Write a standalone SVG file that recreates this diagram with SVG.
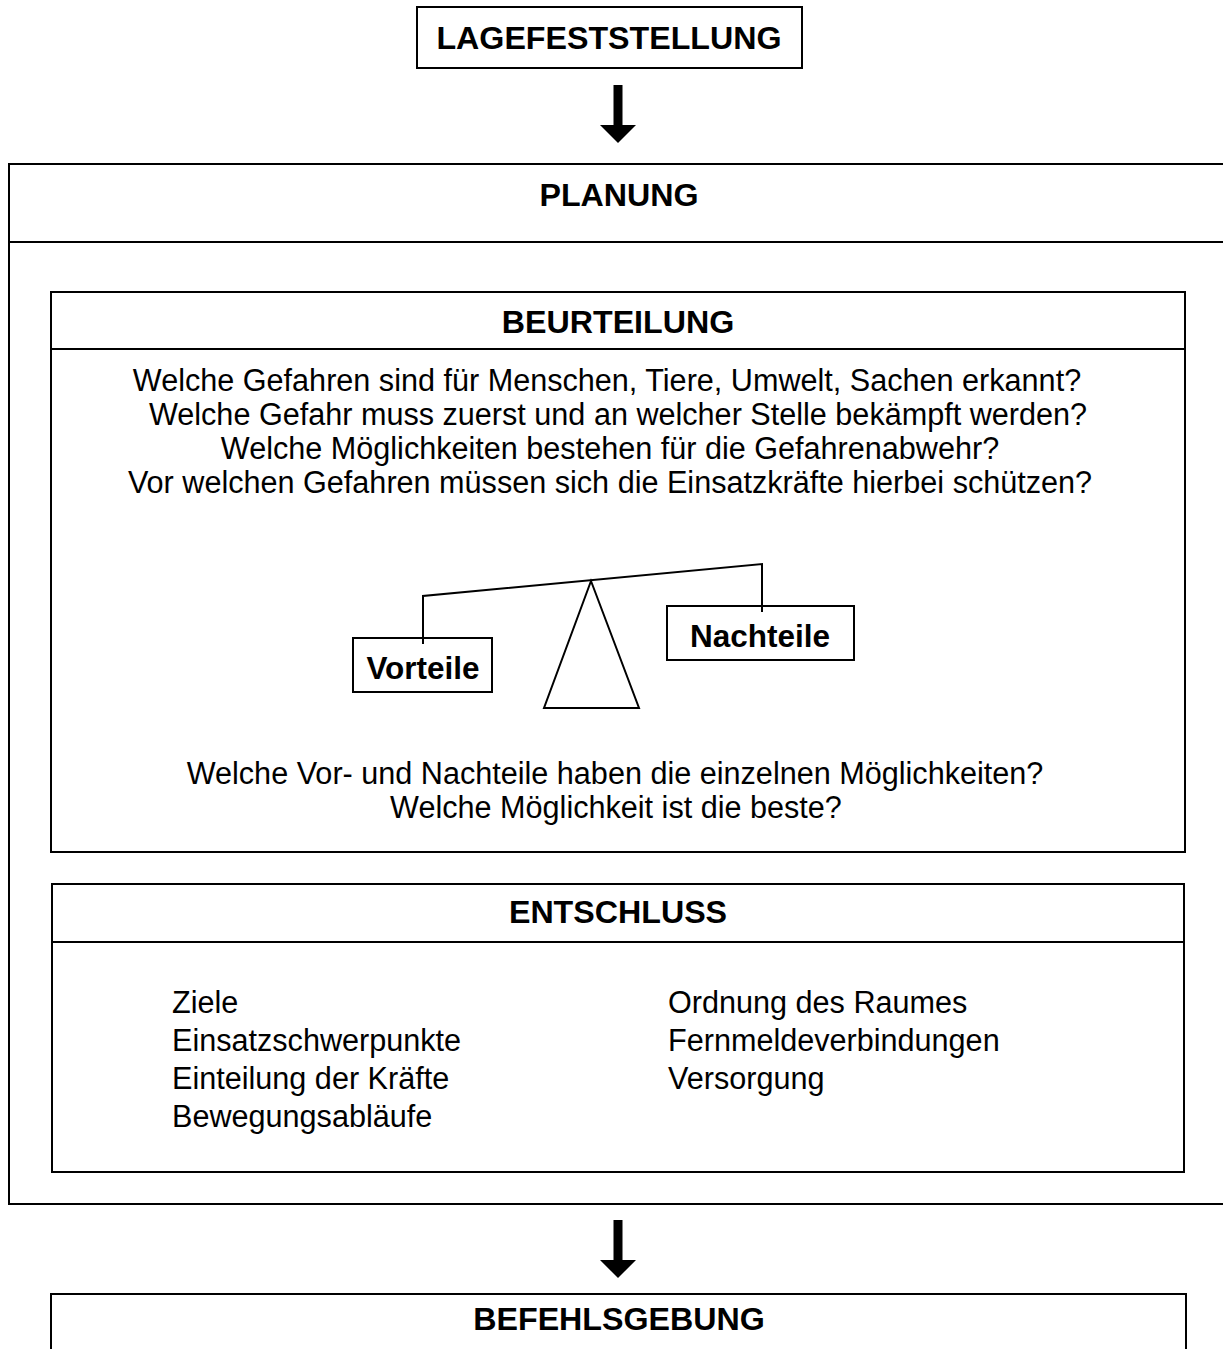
<svg xmlns="http://www.w3.org/2000/svg" width="1223" height="1349" viewBox="0 0 1223 1349">
<style>
.box{fill:#fff;stroke:#000;stroke-width:2}
.ln{fill:none;stroke:#000;stroke-width:2}
.h{font-family:"Liberation Sans",Arial,sans-serif;font-weight:bold;font-size:32.2px;text-anchor:middle;fill:#000}
.s{font-size:31.5px}
.t{font-family:"Liberation Sans",Arial,sans-serif;font-size:30.6px;fill:#000}
.c{text-anchor:middle}
</style>
<rect width="1223" height="1349" fill="#fff"/>
<g id="lagefeststellung">
<rect class="box" x="417" y="7" width="385" height="61"/>
<text class="h" x="609" y="49">LAGEFESTSTELLUNG</text>
</g>
<g id="planung">
<rect class="box" x="9" y="164" width="1230" height="1040"/>
<line class="ln" x1="9" y1="242" x2="1223" y2="242"/>
<text class="h" x="619" y="206">PLANUNG</text>
</g>
<g id="beurteilung">
<rect class="box" x="51" y="292" width="1134" height="560"/>
<line class="ln" x1="51" y1="349" x2="1185" y2="349"/>
<text class="h" x="618" y="333">BEURTEILUNG</text>
<text class="t c" x="607" y="391">Welche Gefahren sind für Menschen, Tiere, Umwelt, Sachen erkannt?</text>
<text class="t c" x="618" y="425">Welche Gefahr muss zuerst und an welcher Stelle bekämpft werden?</text>
<text class="t c" x="610" y="459">Welche Möglichkeiten bestehen für die Gefahrenabwehr?</text>
<text class="t c" x="610" y="493">Vor welchen Gefahren müssen sich die Einsatzkräfte hierbei schützen?</text>
<text class="t c" x="615" y="784">Welche Vor- und Nachteile haben die einzelnen Möglichkeiten?</text>
<text class="t c" x="616" y="818">Welche Möglichkeit ist die beste?</text>
</g>
<g id="waage">
<polyline class="ln" points="423,644 423,596 762,564 762,612"/>
<polygon class="ln" points="591,581 544,708 639,708"/>
</g>
<g id="vorteile">
<rect class="box" x="353" y="638" width="139" height="54" style="fill:none"/>
<text class="h s" x="423" y="679">Vorteile</text>
</g>
<g id="nachteile">
<rect class="box" x="667" y="606" width="187" height="54" style="fill:none"/>
<text class="h s" x="760" y="647">Nachteile</text>
</g>
<g id="entschluss">
<rect class="box" x="52" y="884" width="1132" height="288"/>
<line class="ln" x1="52" y1="942" x2="1184" y2="942"/>
<text class="h" x="618" y="923">ENTSCHLUSS</text>
<text class="t" x="172" y="1013">Ziele</text>
<text class="t" x="172" y="1051">Einsatzschwerpunkte</text>
<text class="t" x="172" y="1089">Einteilung der Kräfte</text>
<text class="t" x="172" y="1127">Bewegungsabläufe</text>
<text class="t" x="668" y="1013">Ordnung des Raumes</text>
<text class="t" x="668" y="1051">Fernmeldeverbindungen</text>
<text class="t" x="668" y="1089">Versorgung</text>
</g>
<g id="befehlsgebung">
<rect class="box" x="51" y="1294" width="1135" height="80"/>
<text class="h" x="619" y="1330">BEFEHLSGEBUNG</text>
</g>
<g id="connectors">
<path d="M613.5 85 H622.5 V125 H636 L618 143 L600 125 H613.5 Z" fill="#000"/>
<path d="M613.5 1220 H622.5 V1260 H636 L618 1278 L600 1260 H613.5 Z" fill="#000"/>
</g>
</svg>
